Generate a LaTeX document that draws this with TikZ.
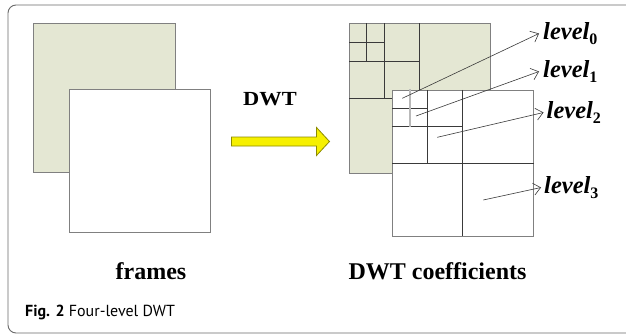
\documentclass[tikz,border=0pt]{standalone}
\usepackage{fontspec}
\setmainfont{Liberation Serif}
\newfontfamily\capfont{PT Sans}
\usetikzlibrary{arrows.meta}
\definecolor{paneFill}{HTML}{E4E7D3}
\definecolor{paneEdge}{HTML}{808080}
\definecolor{gridLine}{HTML}{3A3A3A}
\definecolor{arrowFill}{HTML}{F6F000}
\definecolor{arrowEdge}{HTML}{8C8A00}
\definecolor{frameLine}{HTML}{6A6A6A}
\tikzset{
  pane/.style={draw=paneEdge, line width=0.9pt},
  backpane/.style={pane, fill=paneFill},
  frontpane/.style={pane, fill=white},
  gridrule/.style={draw=gridLine, line width=0.8pt},
  pointer/.style={draw=gridLine, line width=0.6pt, -{Straight Barb[length=7pt,width=12pt,line width=0.6pt]}},
  levellabel/.style={anchor=west, inner sep=0pt, font=\fontsize{24.5}{24.5}\selectfont\bfseries\itshape},
  bigtitle/.style={inner sep=0pt, anchor=base, font=\fontsize{24}{24}\selectfont\bfseries},
}
\newcommand{\lvl}[1]{level\raisebox{-4.5pt}{\fontsize{16}{16}\selectfont\upshape\bfseries #1}}
\begin{document}
\begin{tikzpicture}[x=1pt, y=-1pt]
\useasboundingbox (0,0) rectangle (626,334);
\fill[white] (0,0) rectangle (626,334);

% figure frame, open on the right
\draw[frameLine, line width=0.9pt, rounded corners=8pt] (627,5) -- (8,5) -- (8,333) -- (627,333);

% input frames
\path[backpane] (33.5,23.5) rectangle (175.5,172.5);
\path[frontpane] (69.5,89.5) rectangle (210.5,232.5);

% DWT arrow
\node[inner sep=0pt, anchor=base, font=\fontsize{20}{20}\selectfont\bfseries, xscale=1.12] (dwt) at (270,105.5) {DWT};
\draw[arrowEdge, fill=arrowFill, line width=0.8pt]
  (231.5,137) -- (316.5,137) -- (316.5,127.5) -- (329.5,141.5) -- (316.5,155.5) -- (316.5,146) -- (231.5,146) -- cycle;

% coefficient pyramid: back pane (subbands of the first frame)
\path[backpane] (349,23.5) rectangle (490.5,173.5);
\draw[gridrule] (419.3,23.5) -- (419.3,90);
\draw[gridrule] (349,98.3) -- (392,98.3);
\draw[gridrule] (384.3,23.5) -- (384.3,98.3);
\draw[gridrule] (349,61) -- (419.3,61);
\draw[gridrule] (366.7,23.5) -- (366.7,61);
\draw[gridrule] (349,42.3) -- (384.3,42.3);

% front pane (subbands of the second frame)
\path[frontpane] (392,90) rectangle (533.5,236);
\draw[gridrule] (462.3,90) -- (462.3,236);
\draw[gridrule] (392,163.3) -- (533.5,163.3);
\draw[gridrule] (427.3,90) -- (427.3,163.3);
\draw[gridrule] (392,126.3) -- (462.3,126.3);
\draw[gridrule] (392,108.3) -- (427.3,108.3);
\draw[draw=gray!55, line width=1.2pt] (410,89) -- (410,127.3);

% level pointers
\coordinate (s0) at (402.3,98.3);
\coordinate (s1) at (416,116);
\coordinate (s2) at (437.3,137.3);
\coordinate (s3) at (483.3,200);
\coordinate (e0) at (539,33.5);
\coordinate (e1) at (539,71.5);
\coordinate (e2) at (543.5,112.5);
\coordinate (e3) at (541,187.5);
\node[levellabel] (l0) at ([xshift=4pt]e0) {\lvl{0}};
\node[levellabel] (l1) at ([xshift=4pt]e1) {\lvl{1}};
\node[levellabel] (l2) at ([xshift=3pt]e2) {\lvl{2}};
\node[levellabel] (l3) at ([xshift=3pt]e3) {\lvl{3}};
\draw[pointer] (s0) -- (e0);
\draw[pointer] (s1) -- (e1);
\draw[pointer] (s2) -- (e2);
\draw[pointer] (s3) -- (e3);

% titles
\node[bigtitle] (frames) at (151,279.5) {frames};
\node[bigtitle] (coeffs) at (437.5,279.5) {DWT coefficients};

% caption
\node[anchor=base west, inner sep=0pt, font=\capfont\fontsize{16}{16}\selectfont] (caption) at (25,316.5) {\textbf{Fig. 2} Four-level DWT};
\end{tikzpicture}
\end{document}
